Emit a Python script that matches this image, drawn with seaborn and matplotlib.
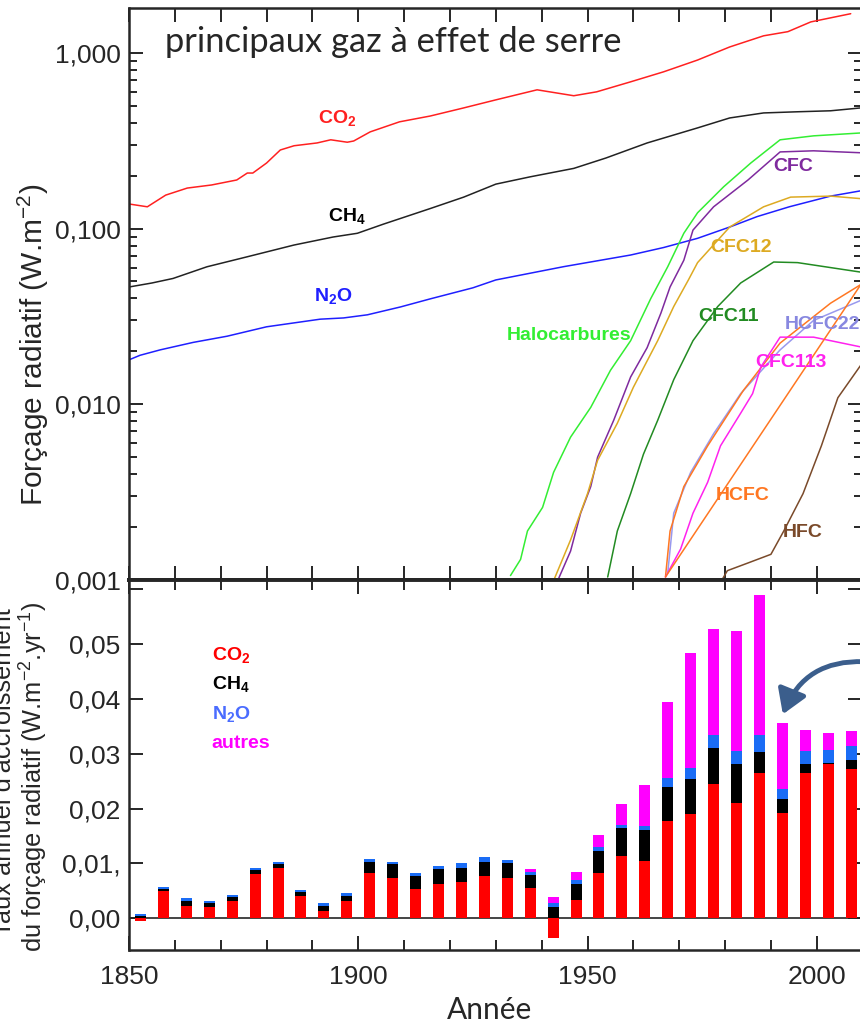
import numpy as np
import matplotlib
matplotlib.use('Agg')
import matplotlib.pyplot as plt
import seaborn as sns
from matplotlib.ticker import FixedLocator, NullFormatter, LogLocator, FixedFormatter

# forcing curves (W.m-2)
co2_years = [1850, 1854, 1858, 1862.7, 1868, 1873.5, 1875.8, 1877, 1880, 1883, 1886, 1891, 1894,
             1897.6, 1899, 1902.6, 1909, 1915.7, 1923, 1930, 1939, 1947, 1952, 1959.4, 1966.6,
             1974, 1981, 1988.4, 1993.7, 1998.7, 2007.4]
co2_vals = [0.138, 0.133, 0.155, 0.170, 0.177, 0.189, 0.207, 0.207, 0.236, 0.28, 0.296, 0.307, 0.32,
            0.31, 0.315, 0.355, 0.405, 0.437, 0.486, 0.54, 0.616, 0.57, 0.6, 0.684, 0.78,
            0.91, 1.08, 1.25, 1.32, 1.5, 1.67]

ch4_years = [1850, 1855, 1859.6, 1867, 1875.7, 1886, 1894.5, 1899.8, 1905.5, 1915.7, 1923, 1930,
             1937.5, 1947, 1954, 1963, 1974, 1981, 1988.4, 1995.8, 2003, 2009.6]
ch4_vals = [0.0465, 0.049, 0.052, 0.0606, 0.069, 0.0806, 0.0895, 0.094, 0.106, 0.13, 0.151, 0.179,
            0.197, 0.22, 0.252, 0.307, 0.374, 0.426, 0.455, 0.462, 0.468, 0.486]

n2o_years = [1850, 1852.4, 1856.8, 1864, 1871.4, 1880, 1891.7, 1896.8, 1902, 1909.2, 1915.7, 1925,
             1930, 1944.8, 1959.4, 1966.6, 1974, 1981, 1987, 1994, 2003, 2009.6]
n2o_vals = [0.0179, 0.019, 0.0204, 0.0225, 0.0244, 0.0276, 0.0305, 0.031, 0.0323, 0.0358, 0.0398,
            0.046, 0.051, 0.0607, 0.0707, 0.078, 0.088, 0.102, 0.117, 0.133, 0.153, 0.164]

halo_years = [1933.2, 1935.4, 1936.9, 1940.2, 1942.6, 1946.3, 1950.7, 1955, 1959.4, 1963.8, 1967.5,
              1971, 1974, 1979.7, 1985.6, 1992, 1999.3, 2009.6]
halo_vals = [0.00106, 0.00131, 0.0019, 0.00259, 0.0041, 0.0065, 0.0096, 0.0156, 0.023, 0.040, 0.0607,
             0.094, 0.123, 0.173, 0.236, 0.32, 0.337, 0.35]

cfc_years = [1943.7, 1946.3, 1948.5, 1950.7, 1952.2, 1955.7, 1959.4, 1963, 1966, 1968, 1971, 1973,
             1977.5, 1985, 1992, 1999.3, 2009.6]
cfc_vals = [0.00102, 0.00146, 0.0024, 0.0034, 0.005, 0.0081, 0.0143, 0.021, 0.033, 0.0465, 0.066,
            0.098, 0.133, 0.189, 0.273, 0.277, 0.27]

cfc12_years = [1942.8, 1946.3, 1950, 1952.2, 1956.5, 1960, 1965.3, 1968.8, 1972, 1974, 1981, 1988.4,
               1994.3, 2003, 2009.6]
cfc12_vals = [0.00102, 0.00169, 0.0031, 0.0048, 0.0078, 0.0125, 0.023, 0.036, 0.051, 0.064, 0.102,
              0.133, 0.151, 0.153, 0.148]

cfc11_years = [1954.4, 1956.5, 1959.4, 1962.2, 1965.3, 1968.8, 1973, 1978.4, 1983.4, 1990.6, 1995.8,
               2009.6]
cfc11_vals = [0.00104, 0.0019, 0.0031, 0.0052, 0.0081, 0.0138, 0.023, 0.036, 0.049, 0.0645, 0.064,
              0.0565]

hcfc22_years = [1967.5, 1968.8, 1972.5, 1977.5, 1983.4, 1992, 1999.3, 2009.6]
hcfc22_vals = [0.0011, 0.0024, 0.0041, 0.0068, 0.0115, 0.0204, 0.030, 0.039]

hcfc_years = [1967, 1968, 1971, 1976.2, 1984, 1992, 2003, 2009.6]
hcfc_vals = [0.00104, 0.0019, 0.0034, 0.0058, 0.0120, 0.0223, 0.0376, 0.048]

cfc113_years = [1967, 1970.3, 1973, 1976.2, 1979, 1983.4, 1986, 1987.8, 1992, 1999.3, 2009.6]
cfc113_vals = [0.00104, 0.0015, 0.0024, 0.0036, 0.0058, 0.0089, 0.0115, 0.0163, 0.0241, 0.0241, 0.0212]

hfc_years = [1979.5, 1980.5, 1985, 1990, 1992.8, 1997, 2001, 2004.6, 2009.6]
hfc_vals = [0.00102, 0.00113, 0.00125, 0.0014, 0.0019, 0.0031, 0.0058, 0.0109, 0.0167]

# annual growth rate of forcing (W.m-2.yr-1), 5-year bars
bar_years = [1852.5, 1857.5, 1862.5, 1867.5, 1872.5, 1877.5, 1882.5, 1887.5, 1892.5, 1897.5,
             1902.5, 1907.5, 1912.5, 1917.5, 1922.5, 1927.5, 1932.5, 1937.5, 1942.5, 1947.5,
             1952.5, 1957.5, 1962.5, 1967.5, 1972.5, 1977.5, 1982.5, 1987.5, 1992.5, 1997.5,
             2002.5, 2007.5]
co2_rate = [-0.0005, 0.0049, 0.0023, 0.0020, 0.0031, 0.0080, 0.0092, 0.0040, 0.0013, 0.0031,
            0.0083, 0.0074, 0.0054, 0.0063, 0.0066, 0.0077, 0.0074, 0.0055, -0.0036, 0.0034,
            0.0083, 0.0114, 0.0105, 0.0177, 0.0190, 0.0245, 0.0210, 0.0264, 0.0192, 0.0264,
            0.0282, 0.0273]
ch4_rate = [0.0004, 0.0004, 0.0008, 0.0008, 0.0007, 0.0007, 0.0007, 0.0008, 0.0010, 0.0010,
            0.0020, 0.0025, 0.0023, 0.0026, 0.0026, 0.0026, 0.0026, 0.0023, 0.0021, 0.0028,
            0.0040, 0.0050, 0.0056, 0.0063, 0.0064, 0.0066, 0.0071, 0.0040, 0.0026, 0.0018,
            0.0001, 0.0016]
n2o_rate = [0.0004, 0.0004, 0.0005, 0.0004, 0.0005, 0.0004, 0.0004, 0.0004, 0.0005, 0.0005,
            0.0005, 0.0004, 0.0005, 0.0007, 0.0008, 0.0008, 0.0006, 0.0006, 0.0006, 0.0007,
            0.0007, 0.0006, 0.0008, 0.0015, 0.0020, 0.0023, 0.0024, 0.0030, 0.0018, 0.0023,
            0.0023, 0.0026]
other_rate = [0, 0, 0, 0, 0, 0, 0, 0, 0, 0,
              0, 0, 0, 0, 0, 0, 0, 0.0006, 0.0011, 0.0015,
              0.0021, 0.0038, 0.0074, 0.0139, 0.0209, 0.0193, 0.0219, 0.0255, 0.0121, 0.0039,
              0.0032, 0.0027]

log_ticks = [0.001, 0.01, 0.1, 1.0]
log_labels = ['0,001', '0,010', '0,100', '1,000']
rate_ticks = [0.0, 0.01, 0.02, 0.03, 0.04, 0.05]
rate_labels = ['0,00', '0,01,', '0,02', '0,03', '0,04', '0,05']

sns.set_style('ticks')
plt.rcParams['font.family'] = ['Liberation Sans', 'DejaVu Sans']
plt.rcParams['mathtext.default'] = 'regular'

narrow = ['Liberation Sans Narrow', 'Liberation Sans']
calibri = ['Lato', 'DejaVu Sans']

fig = plt.figure(figsize=(8.6, 10.24), dpi=100)
ax = fig.add_axes([0.15, 0.4336, 0.852, 0.5586])
ax2 = fig.add_axes([0.15, 0.0723, 0.852, 0.3613])

# ---- top panel: forcing curves
ax.set_yscale('log')
curves = [(co2_years, co2_vals, '#ff2020'), (ch4_years, ch4_vals, '#222222'),
          (n2o_years, n2o_vals, '#1f1fff'), (halo_years, halo_vals, '#33ee33'),
          (cfc_years, cfc_vals, '#7f2a9e'), (cfc12_years, cfc12_vals, '#ddaa22'),
          (cfc11_years, cfc11_vals, '#228b22'), (hcfc22_years, hcfc22_vals, '#9999ee'),
          (hcfc_years, hcfc_vals, '#ff7722'), (cfc113_years, cfc113_vals, '#ff22ee'),
          (hfc_years, hfc_vals, '#7a4a2a')]
for xs, ys, c in curves:
    sns.lineplot(x=xs, y=ys, color=c, lw=1.1, ax=ax)
sns.lineplot(x=[hcfc_years[0], hcfc_years[-1]], y=[hcfc_vals[0], hcfc_vals[-1]],
             color='#ff7722', lw=1.1, ax=ax)

ax.set_xlim(1850, 2009.8)
ax.set_ylim(0.001, 1.8)
ax.yaxis.set_major_locator(FixedLocator(log_ticks))
ax.yaxis.set_major_formatter(FixedFormatter(log_labels))
ax.yaxis.set_minor_locator(LogLocator(base=10, subs=np.arange(2, 10)))
ax.yaxis.set_minor_formatter(NullFormatter())
ax.xaxis.set_major_locator(FixedLocator(np.arange(1850, 2011, 10)))
ax.set_xticklabels([])
ax.tick_params(axis='both', which='major', direction='in', length=10, width=1.4,
               top=True, right=True, labelsize=19, pad=6)
ax.tick_params(axis='both', which='minor', direction='in', length=6, width=1.4, right=True)
ax.set_xlabel('')
ax.set_ylabel('')

ax.text(0.049, 0.9406, 'principaux gaz à effet de serre', transform=ax.transAxes,
        fontsize=24.8, family=calibri, va='center', ha='left')

labels = [('CO$_2$', 1895.5, 0.426, '#ff2020'), ('CH$_4$', 1897.5, 0.118, '#000000'),
          ('N$_2$O', 1894.5, 0.0413, '#1f1fff'), ('Halocarbures', 1945.9, 0.0245, '#33ee33'),
          ('CFC', 1994.8, 0.227, '#7f2a9e'), ('CFC12', 1983.4, 0.0776, '#ddaa22'),
          ('CFC11', 1980.8, 0.0314, '#228b22'), ('HCFC22', 2001.3, 0.0283, '#8888e0'),
          ('CFC113', 1994.3, 0.0174, '#ff22ee'), ('HCFC', 1983.8, 0.00304, '#ff7722'),
          ('HFC', 1997, 0.00187, '#7a4a2a')]
for txt, xv, yv, c in labels:
    ax.text(xv, yv, txt, color=c, fontsize=14, fontweight='bold', family=narrow,
            ha='center', va='center')

for s in ax.spines.values():
    s.set_linewidth(1.8)
ax.spines['bottom'].set_linewidth(2.8)

# ---- bottom panel: stacked growth rates
co2_arr = np.array(co2_rate)
base = np.clip(co2_arr, 0, None)
ax2.bar(bar_years, co2_arr, width=2.4, color='#ff0000', lw=0)
ax2.bar(bar_years, ch4_rate, width=2.4, bottom=base, color='#000000', lw=0)
base = base + np.array(ch4_rate)
ax2.bar(bar_years, n2o_rate, width=2.4, bottom=base, color='#1a6cf5', lw=0)
base = base + np.array(n2o_rate)
ax2.bar(bar_years, other_rate, width=2.4, bottom=base, color='#ff00ff', lw=0)
ax2.axhline(0, color='#444444', lw=1.4, zorder=0)

ax2.set_xlim(1850, 2009.8)
ax2.set_ylim(-0.0058, 0.0617)
ax2.yaxis.set_major_locator(FixedLocator(rate_ticks + [0.06]))
ax2.set_yticklabels(rate_labels + [''])
ax2.xaxis.set_major_locator(FixedLocator([1850, 1900, 1950, 2000]))
ax2.xaxis.set_minor_locator(FixedLocator(np.arange(1850, 2011, 10)))
ax2.tick_params(axis='both', which='major', direction='in', length=10, width=1.4,
                top=True, right=True, labelsize=19)
ax2.tick_params(axis='x', which='major', pad=11)
ax2.tick_params(axis='y', which='major', pad=6)
ax2.tick_params(axis='x', which='minor', direction='in', length=7, width=1.4, top=True)
for s in ax2.spines.values():
    s.set_linewidth(1.8)
ax2.spines['top'].set_linewidth(2.8)

legend_items = [('CO$_2$', 0.048, '#ff0000'), ('CH$_4$', 0.0427, '#000000'),
                ('N$_2$O', 0.0372, '#4a6cff'), ('autres', 0.0319, '#ff00ff')]
for txt, yv, c in legend_items:
    ax2.text(1868, yv, txt, color=c, fontsize=14, fontweight='bold', family=narrow,
             ha='left', va='center')

ax2.annotate('', xy=(1992.6, 0.0372), xytext=(2010.3, 0.0468),
             arrowprops=dict(arrowstyle='-|>,head_length=0.8,head_width=0.5',
                             color='#3b5e8c', lw=3.5, mutation_scale=18,
                             connectionstyle='arc3,rad=0.35', shrinkA=0, shrinkB=0),
             annotation_clip=False)

# axis labels
fig.text(33 / 860, 1 - 345 / 1024, 'Forçage radiatif (W.m$^{-2}$)', rotation=90,
         ha='center', va='center', fontsize=21.5)
fig.text(4 / 860, 1 - 772 / 1024, "Taux annuel d'accroissement", rotation=90,
         ha='center', va='center', fontsize=18.3)
fig.text(34 / 860, 1 - 777 / 1024, 'du forçage radiatif (W.m$^{-2}$.yr$^{-1}$)', rotation=90,
         ha='center', va='center', fontsize=18.3)
fig.text(490 / 860, 1 - 1010 / 1024, 'Année', ha='center', va='center', fontsize=21.5,
         family=calibri)

fig.savefig('out.png', dpi=100)
